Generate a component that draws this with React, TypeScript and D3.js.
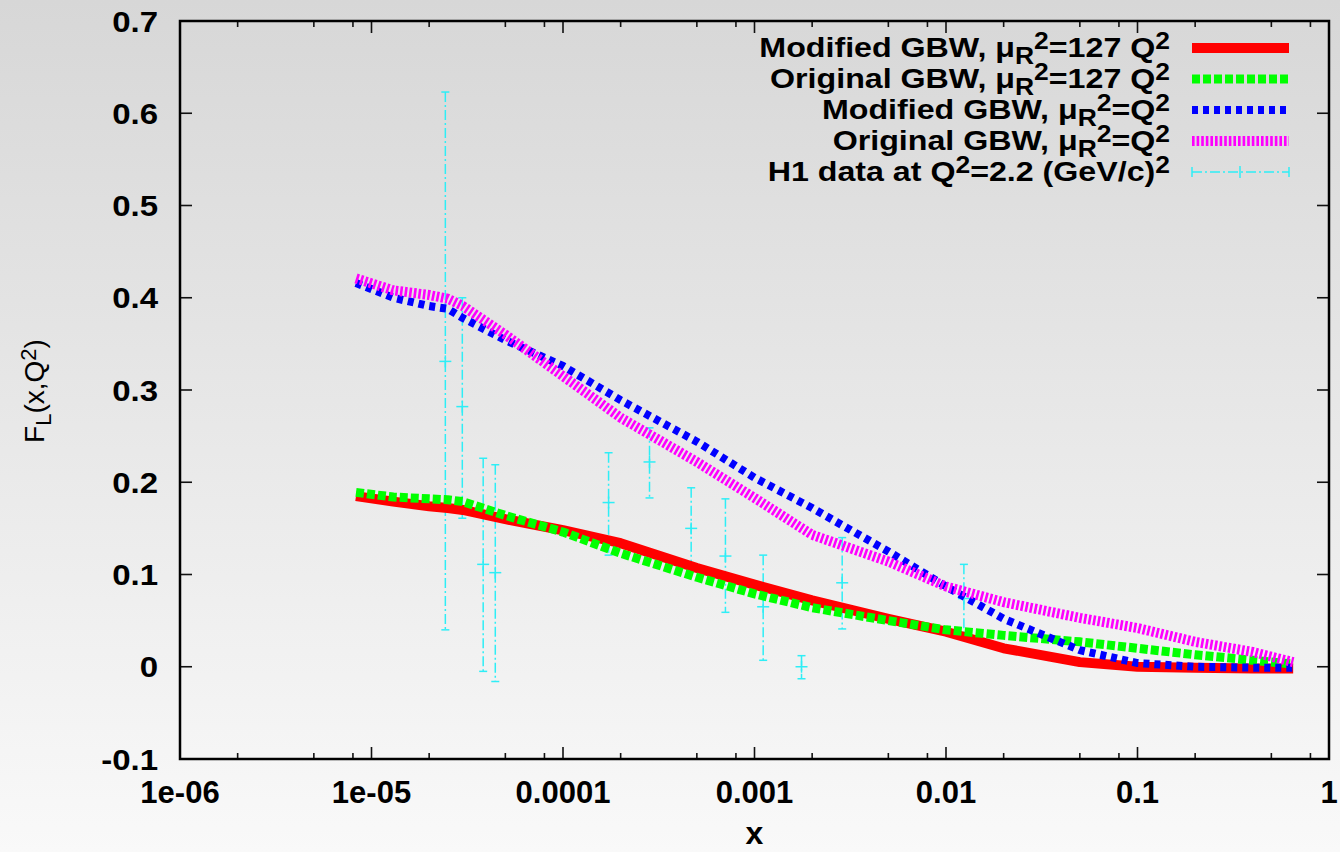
import * as d3 from 'd3'
import { useEffect, useRef } from 'react'

// x grid shared by the four model curves
const xGrid = [8.3e-6, 1.3e-5, 2e-5, 2.5e-5, 3e-5, 5e-5, 1e-4, 2e-4, 5e-4, 1e-3, 2e-3, 5e-3, 1e-2, 2e-2, 5e-2, 0.1, 0.2, 0.4, 0.65]

const modified127 = [0.185, 0.179, 0.174, 0.172, 0.170, 0.160, 0.148, 0.134, 0.107, 0.089, 0.072, 0.052, 0.038, 0.020, 0.005, 0.000, -0.001, -0.002, -0.002]
const original127 = [0.189, 0.184, 0.182, 0.181, 0.179, 0.164, 0.146, 0.123, 0.097, 0.079, 0.064, 0.050, 0.040, 0.034, 0.027, 0.020, 0.013, 0.007, 0.003]
const modifiedQ2 = [0.416, 0.400, 0.391, 0.388, 0.378, 0.354, 0.326, 0.289, 0.244, 0.205, 0.172, 0.125, 0.087, 0.052, 0.018, 0.004, 0.000, -0.001, -0.001]
const originalQ2 = [0.421, 0.408, 0.403, 0.399, 0.391, 0.360, 0.315, 0.270, 0.222, 0.183, 0.143, 0.114, 0.087, 0.070, 0.053, 0.042, 0.027, 0.016, 0.005]

// H1 data at Q^2 = 2.2 (GeV/c)^2
const h1X = [2.43e-5, 2.98e-5, 3.83e-5, 4.43e-5, 1.73e-4, 2.83e-4, 4.67e-4, 7.05e-4, 1.11e-3, 1.76e-3, 2.87e-3, 1.24e-2]
const h1Y = [0.331, 0.282, 0.111, 0.102, 0.178, 0.222, 0.150, 0.120, 0.065, 0.000, 0.091, 0.074]
const h1Lo = [0.040, 0.161, -0.005, -0.016, 0.121, 0.183, 0.108, 0.059, 0.007, -0.013, 0.041, 0.033]
const h1Hi = [0.623, 0.400, 0.226, 0.219, 0.232, 0.259, 0.194, 0.182, 0.121, 0.012, 0.140, 0.111]

const yTicks = [-0.1, 0, 0.1, 0.2, 0.3, 0.4, 0.5, 0.6, 0.7]
const yTickLabels = ['-0.1', '0', '0.1', '0.2', '0.3', '0.4', '0.5', '0.6', '0.7']
const xTicks = [1e-6, 1e-5, 1e-4, 1e-3, 1e-2, 1e-1, 1]
const xTickLabels = ['1e-06', '1e-05', '0.0001', '0.001', '0.01', '0.1', '1']
const minorMultipliers = [2, 5, 8]

type Part = { t: string; s?: 'sub' | 'sup' }
const legendLabels: Part[][] = [
  [{ t: 'Modified GBW, μ' }, { t: 'R', s: 'sub' }, { t: '2', s: 'sup' }, { t: '=127 Q' }, { t: '2', s: 'sup' }],
  [{ t: 'Original GBW, μ' }, { t: 'R', s: 'sub' }, { t: '2', s: 'sup' }, { t: '=127 Q' }, { t: '2', s: 'sup' }],
  [{ t: 'Modified GBW, μ' }, { t: 'R', s: 'sub' }, { t: '2', s: 'sup' }, { t: '=Q' }, { t: '2', s: 'sup' }],
  [{ t: 'Original GBW, μ' }, { t: 'R', s: 'sub' }, { t: '2', s: 'sup' }, { t: '=Q' }, { t: '2', s: 'sup' }],
  [{ t: 'H1 data at Q' }, { t: '2', s: 'sup' }, { t: '=2.2 (GeV/c)' }, { t: '2', s: 'sup' }]
]
const yLabel: Part[] = [{ t: 'F' }, { t: 'L', s: 'sub' }, { t: '(x,Q' }, { t: '2', s: 'sup' }, { t: ')' }]

// line styles for the model curves (same order as legend)
const curveStyles = [
  { values: modified127, color: '#ff0000', width: 10, dash: null },
  { values: original127, color: '#00ff00', width: 9, dash: '8,3' },
  { values: modifiedQ2, color: '#0000ff', width: 8, dash: '6,5' },
  { values: originalQ2, color: '#ff00ff', width: 10, dash: '2.6,2' }
]

const W = 1340
const H = 852
const FONT = '"Liberation Sans", Arial, Helvetica, sans-serif'
const CYAN = '#2eeef6'

function richText(sel: any, parts: Part[], size: number, small: number) {
  let off = 0
  parts.forEach(p => {
    const target = p.s === 'sub' ? 7 : p.s === 'sup' ? -8 : 0
    sel.append('tspan')
      .attr('dy', target - off)
      .attr('font-size', p.s ? small : size)
      .text(p.t)
    off = target
  })
}

export default function App() {
  const ref = useRef<SVGSVGElement>(null)

  useEffect(() => {
    const svg = d3.select(ref.current)
    svg.selectAll('*').remove()

    const left = 180, right = 1329, top = 21, bottom = 759

    const x = d3.scaleLog().domain([1e-6, 1]).range([left, right])
    const y = d3.scaleLinear().domain([-0.1, 0.7]).range([bottom, top])

    const defs = svg.append('defs')
    const grad = defs.append('linearGradient')
      .attr('id', 'bg').attr('x1', 0).attr('y1', 0).attr('x2', 0).attr('y2', 1)
    grad.append('stop').attr('offset', '0%').attr('stop-color', '#d7d7d7')
    grad.append('stop').attr('offset', '100%').attr('stop-color', '#f9f9f9')
    defs.append('clipPath').attr('id', 'plot')
      .append('rect').attr('x', left).attr('y', top).attr('width', right - left).attr('height', bottom - top)

    svg.append('rect').attr('width', W).attr('height', H).attr('fill', 'url(#bg)')

    // ticks (all four sides, pointing inward)
    const tk = svg.append('g').attr('stroke', '#111').attr('stroke-width', 1.6)
    yTicks.forEach(v => {
      tk.append('line').attr('x1', left).attr('x2', left + 12).attr('y1', y(v)).attr('y2', y(v))
      tk.append('line').attr('x1', right).attr('x2', right - 12).attr('y1', y(v)).attr('y2', y(v))
    })
    xTicks.forEach((v, i) => {
      tk.append('line').attr('x1', x(v)).attr('x2', x(v)).attr('y1', bottom).attr('y2', bottom - 12)
      tk.append('line').attr('x1', x(v)).attr('x2', x(v)).attr('y1', top).attr('y2', top + 12)
      if (i < xTicks.length - 1) {
        minorMultipliers.forEach(m => {
          const xv = x(v * m)
          tk.append('line').attr('x1', xv).attr('x2', xv).attr('y1', bottom).attr('y2', bottom - 6)
          tk.append('line').attr('x1', xv).attr('x2', xv).attr('y1', top).attr('y2', top + 6)
        })
      }
    })

    // tick labels
    const lab = svg.append('g').attr('font-family', FONT).attr('font-weight', 'bold').attr('fill', '#000')
    yTicks.forEach((v, i) => {
      lab.append('text')
        .attr('transform', `translate(158,${y(v) + 10.5}) scale(1.1,1)`)
        .attr('text-anchor', 'end').attr('font-size', 30).text(yTickLabels[i])
    })
    xTicks.forEach((v, i) => {
      lab.append('text').attr('x', x(v)).attr('y', 803).attr('text-anchor', 'middle')
        .attr('font-size', 31).text(xTickLabels[i])
    })

    // axis titles
    svg.append('text').attr('x', (left + right) / 2).attr('y', 844)
      .attr('text-anchor', 'middle').attr('font-family', FONT).attr('font-weight', 'bold').attr('font-size', 32)
      .text('x')
    const yl = svg.append('text')
      .attr('transform', 'translate(44,391) rotate(-90)')
      .attr('text-anchor', 'middle').attr('font-family', FONT).attr('font-size', 28)
    richText(yl, yLabel, 28, 22)

    const plot = svg.append('g').attr('clip-path', 'url(#plot)')

    // error bars
    const eb = plot.append('g').attr('stroke', CYAN).attr('stroke-width', 1.5).attr('fill', 'none')
    h1X.forEach((xv, i) => {
      const px = x(xv)
      eb.append('line').attr('x1', px).attr('x2', px).attr('y1', y(h1Hi[i])).attr('y2', y(h1Lo[i]))
        .attr('stroke-dasharray', '10,3,2,3')
      eb.append('line').attr('x1', px - 4).attr('x2', px + 4).attr('y1', y(h1Hi[i])).attr('y2', y(h1Hi[i]))
      eb.append('line').attr('x1', px - 4).attr('x2', px + 4).attr('y1', y(h1Lo[i])).attr('y2', y(h1Lo[i]))
      eb.append('line').attr('x1', px - 6).attr('x2', px + 6).attr('y1', y(h1Y[i])).attr('y2', y(h1Y[i]))
      eb.append('line').attr('x1', px).attr('x2', px).attr('y1', y(h1Y[i]) - 6).attr('y2', y(h1Y[i]) + 6)
    })

    // model curves
    const line = d3.line<number>()
      .x((_, i) => x(xGrid[i]))
      .y(d => y(d))
    curveStyles.forEach(c => {
      plot.append('path')
        .attr('d', line(c.values))
        .attr('fill', 'none')
        .attr('stroke', c.color)
        .attr('stroke-width', c.width)
        .attr('stroke-dasharray', c.dash)
        .attr('stroke-linejoin', 'round')
    })

    // frame
    svg.append('rect').attr('x', left).attr('y', top).attr('width', right - left).attr('height', bottom - top)
      .attr('fill', 'none').attr('stroke', '#000').attr('stroke-width', 2.5)

    // legend
    const lg = svg.append('g')
    const rowY = (i: number) => 48 + i * 31
    legendLabels.forEach((parts, i) => {
      const t = lg.append('text')
        .attr('transform', `translate(1170,${rowY(i) + 9}) scale(1.15,1)`)
        .attr('text-anchor', 'end').attr('font-family', FONT).attr('font-weight', 'bold').attr('font-size', 28)
      richText(t, parts, 28, 23)
    })
    curveStyles.forEach((c, i) => {
      lg.append('line').attr('x1', 1192).attr('x2', 1289).attr('y1', rowY(i)).attr('y2', rowY(i))
        .attr('stroke', c.color).attr('stroke-width', c.width).attr('stroke-dasharray', c.dash)
    })
    const hy = rowY(4)
    const hl = lg.append('g').attr('stroke', CYAN).attr('stroke-width', 1.5)
    hl.append('line').attr('x1', 1192).attr('x2', 1289).attr('y1', hy).attr('y2', hy).attr('stroke-dasharray', '10,3,2,3')
    hl.append('line').attr('x1', 1192).attr('x2', 1192).attr('y1', hy - 5).attr('y2', hy + 5)
    hl.append('line').attr('x1', 1289).attr('x2', 1289).attr('y1', hy - 5).attr('y2', hy + 5)
    hl.append('line').attr('x1', 1240).attr('x2', 1240).attr('y1', hy - 6).attr('y2', hy + 6)
  }, [])

  return (
    <svg ref={ref} width={W} height={H} style={{ position: 'absolute', left: 0, top: 0 }} />
  )
}
